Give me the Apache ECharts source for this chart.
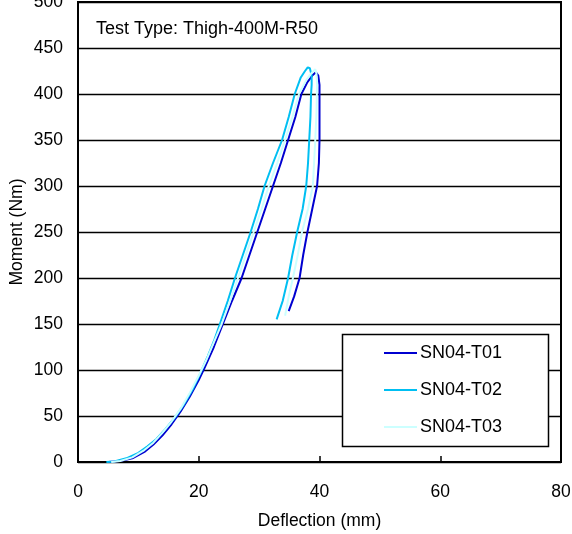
<!DOCTYPE html>
<html>
<head>
<meta charset="utf-8">
<script src="https://cdn.jsdelivr.net/npm/echarts@6/dist/echarts.min.js"></script>
<style>html,body{margin:0;padding:0;background:#fff}#c{width:572px;height:534px}</style>
</head>
<body>
<div id="c"></div>
<script>
var seriesNames = ['SN04-T01', 'SN04-T02', 'SN04-T03'];
var seriesColors = ['#0000D0', '#00BFF2', '#CCFFFF'];

// [deflection (mm), moment (Nm)]
var t01 = [[5,0],[7,1],[9,4],[11,11],[12.5,19],[14,29],[15.5,41],[17,55],[18.5,71],[20,89],[21,103],[22.5,125],[24,150],[25.5,175],[27.1,200],[28.4,225],[29.7,250],[31,275],[32.3,300],[33.6,325],[34.8,350],[36,375],[37,400],[38,413],[38.8,420],[39.4,423.6],
  [39.8,420],[40,410],[40,380],[40,350],[39.9,325],[39.6,300],[38.8,275],[38,250],[37.3,225],[36.7,200],[35.8,180],[34.9,164]];
var t02 = [[4.7,0],[6,0.5],[8,4],[10,10],[11.5,17],[13,25],[14.5,36],[16,48],[17.5,62],[19,79],[20.3,97],[21.5,115],[22.6,133],[23.5,150],[24.8,175],[26,200],[27.3,225],[28.6,250],[29.8,275],[30.9,300],[32.3,325],[33.8,350],[34.9,375],[35.9,400],[36.9,418],[37.6,425],[38.05,429],
  [38.4,428],[38.7,420],[38.7,410],[38.6,400],[38.5,375],[38.3,350],[38.1,325],[37.8,300],[37.2,275],[36.3,250],[35.5,225],[34.8,200],[33.9,175],[32.9,155]];
var t03 = [[5.5,0],[7,1],[9,5],[11,13],[12.5,21],[14,32],[15.5,44],[17,58],[18.5,75],[20,94],[21.2,110],[22.5,130],[23.8,150],[25.2,175],[26.5,200],[27.8,225],[29.1,250],[30.4,275],[31.6,300],[33,325],[34.3,350],[35.5,375],[36.6,400],[37.8,415],[38.7,423],[39.3,427],
  [39.5,422],[39.6,410],[39.5,380],[39.3,350],[39.1,325],[38.9,300],[38.1,275],[37.1,250],[36.4,225],[35.6,200],[34.9,180],[34.3,159]];
var allData = [t01, t02, t03];

var titleText = 'Test Type: Thigh-400M-R50';
var xName = 'Deflection (mm)';
var yName = 'Moment (Nm)';

var FONT = '"Liberation Sans", Arial, sans-serif';
var chart = echarts.init(document.getElementById('c'), null, {renderer: 'canvas'});
chart.setOption({
  animation: false,
  backgroundColor: '#fff',
  textStyle: {fontFamily: FONT, color: '#000'},
  title: {
    text: titleText, left: 96, top: 20, padding: 0,
    textStyle: {fontFamily: FONT, fontSize: 18, fontWeight: 'normal', color: '#000'}
  },
  grid: {
    left: 78, top: 2, right: 11, bottom: 72,
    outerBoundsMode: 'none', containLabel: false,
    show: true, borderColor: '#000', borderWidth: 2, backgroundColor: 'transparent'
  },
  graphic: [{
    type: 'rect', z: 3,
    shape: {x: 342.5, y: 334.5, width: 206, height: 112},
    style: {fill: '#fff', stroke: '#000', lineWidth: 1.5}
  }],
  legend: {
    orient: 'vertical', left: 384, top: 344, padding: 0, z: 5,
    itemWidth: 33, itemHeight: 2, itemGap: 19, icon: 'rect',
    textStyle: {fontFamily: FONT, fontSize: 18, color: '#000', lineHeight: 18, padding: [0, 0, 0, -2]},
    data: seriesNames
  },
  xAxis: {
    type: 'value', min: 0, max: 80, interval: 20,
    name: xName, nameLocation: 'middle', nameGap: 50, nameMoveOverlap: false,
    nameTextStyle: {fontFamily: FONT, fontSize: 17.5, color: '#000'},
    axisLine: {show: true, onZero: false, lineStyle: {color: '#000', width: 2}},
    axisTick: {show: true, inside: true, length: 6, lineStyle: {color: '#000', width: 1.5}},
    axisLabel: {fontFamily: FONT, fontSize: 17.5, color: '#000', margin: 21},
    splitLine: {show: false}
  },
  yAxis: {
    type: 'value', min: 0, max: 500, interval: 50,
    name: yName, nameLocation: 'middle', nameGap: 52, nameMoveOverlap: false,
    nameTextStyle: {fontFamily: FONT, fontSize: 17.5, color: '#000'},
    axisLine: {show: true, onZero: false, lineStyle: {color: '#000', width: 2}},
    axisTick: {show: false},
    axisLabel: {fontFamily: FONT, fontSize: 17.5, color: '#000', margin: 15},
    splitLine: {show: true, lineStyle: {color: '#000', width: 1.3}}
  },
  series: seriesNames.map(function (n, i) {
    return {
      name: n, type: 'line', data: allData[i], showSymbol: false, symbol: 'none',
      lineStyle: {color: seriesColors[i], width: 2}, itemStyle: {color: seriesColors[i]},
      z: 2 + i
    };
  })
});
</script>
</body>
</html>
